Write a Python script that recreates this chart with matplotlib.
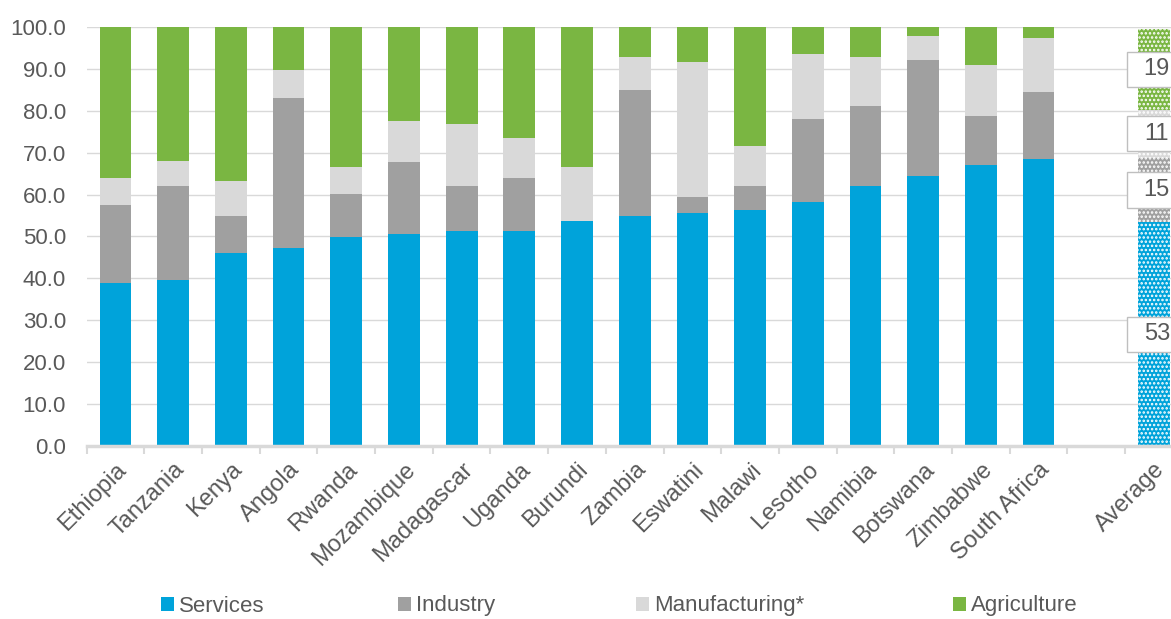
import matplotlib
matplotlib.use("Agg")
import matplotlib.pyplot as plt
from matplotlib.patches import Rectangle
import numpy as np

# ---- data (percent of GDP) ----
countries = ["Ethiopia", "Tanzania", "Kenya", "Angola", "Rwanda", "Mozambique",
             "Madagascar", "Uganda", "Burundi", "Zambia", "Eswatini", "Malawi",
             "Lesotho", "Namibia", "Botswana", "Zimbabwe", "South Africa"]
services = [38.9, 39.6, 46.0, 47.3, 49.9, 50.5, 51.2, 51.2, 53.7, 55.0, 55.7,
            56.3, 58.2, 62.1, 64.5, 67.1, 68.4]
industry = [18.6, 22.5, 8.9, 35.8, 10.2, 17.3, 10.9, 12.8, 0.0, 30.0, 3.8,
            5.8, 19.8, 19.1, 27.6, 11.6, 16.1]
manufacturing = [6.5, 5.8, 8.4, 6.6, 6.5, 9.7, 14.7, 9.6, 12.9, 7.8, 32.1,
                 9.6, 15.5, 11.6, 5.8, 12.2, 12.8]
agriculture = [36.0, 32.1, 36.7, 10.3, 33.4, 22.5, 23.2, 26.4, 33.4, 7.2, 8.4,
               28.3, 6.5, 7.2, 2.1, 9.1, 2.7]

avg_label = "Average"
avg_values = [53.4, 15.4, 11.4, 19.4]   # services, industry, manufacturing, agriculture

series_names = ["Services", "Industry", "Manufacturing*", "Agriculture"]
colors = ["#00A3DA", "#A0A0A0", "#D9D9D9", "#7AB642"]

# ---- styling ----
plt.rcParams["font.family"] = ["Liberation Sans", "DejaVu Sans"]
plt.rcParams["hatch.linewidth"] = 1.2
txt = "#595959"
grid_c = "#D9D9D9"
W, H = 1171, 619

fig = plt.figure(figsize=(W / 100, H / 100), dpi=100)
ax = fig.add_axes([86.7 / W, 1 - 446 / H, (1182.7 - 86.7) / W, (446 - 27) / H])

x = np.arange(len(countries))
width = 0.55
bottom = np.zeros(len(countries))
handles = []
for vals, name, c in zip([services, industry, manufacturing, agriculture], series_names, colors):
    b = ax.bar(x, vals, width, bottom=bottom, color=c, label=name, zorder=3)
    handles.append(b)
    bottom += np.array(vals)

# average bar, one empty slot after the last country
avg_x = len(countries) + 1
acc = 0.0
for v, c in zip(avg_values, colors):
    ax.bar(avg_x, v, width, bottom=acc, color=c, edgecolor="white", linewidth=0,
           hatch="....", zorder=3)
    cy = acc + v / 2
    ax.add_patch(Rectangle((avg_x - 0.47, cy - 4.2), 0.94, 8.4, facecolor="white",
                           edgecolor="#BFBFBF", linewidth=1, zorder=4))
    ax.text(avg_x + 0.05, cy, f"{v:.0f}", ha="center", va="center", fontsize=17,
            color=txt, zorder=5)
    acc += v

labels = countries + ["", avg_label]
ax.set_xlim(-0.5, len(labels) - 0.5)
ax.set_ylim(0, 100)

# tick marks at category boundaries, labels at centres
ax.set_xticks(np.arange(-0.5, len(labels), 1.0))
ax.set_xticklabels([])
ax.tick_params(axis="x", which="major", length=6, width=1.5, color=grid_c)
ax.set_xticks(np.arange(len(labels)), minor=True)
ax.set_xticklabels(labels, minor=True, rotation=45, ha="right", va="top",
                   rotation_mode="anchor", fontsize=17, color=txt)
ax.tick_params(axis="x", which="minor", length=0, pad=9)

ax.set_yticks(np.arange(0, 101, 10))
ax.set_yticklabels([f"{v:.1f}" for v in np.arange(0, 101, 10)], fontsize=16, color=txt)
ax.tick_params(axis="y", length=0, pad=15)
ax.yaxis.grid(True, color=grid_c, linewidth=1, zorder=0)
ax.set_axisbelow(True)

for s in ["left", "right", "top"]:
    ax.spines[s].set_visible(False)
ax.spines["bottom"].set_color(grid_c)
ax.spines["bottom"].set_linewidth(2.5)
ax.spines["bottom"].set_zorder(4)

# legend entries spread along the bottom like the original
legend_x = [161, 398, 636, 953]
for h, name, lx in zip(handles, series_names, legend_x):
    fig.legend([h], [name], loc="center left", bbox_to_anchor=(lx / W, 1 - 606 / H),
               frameon=False, fontsize=16, labelcolor=txt, borderpad=0,
               borderaxespad=0, handlelength=0.6, handleheight=0.6, handletextpad=0.2)

fig.savefig("out.png", dpi=100)
